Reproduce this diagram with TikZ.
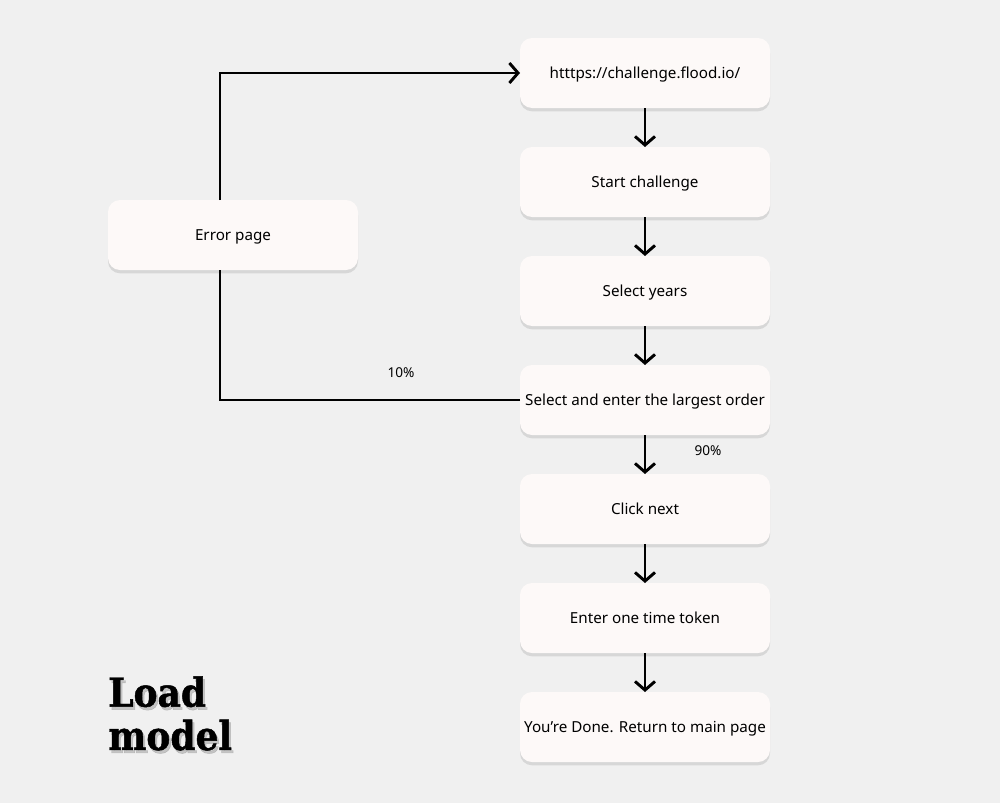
\documentclass[tikz,border=0pt]{standalone}
\usepackage{fontspec}
\setmainfont{Noto Sans}
\newfontfamily\slabfont[FakeStretch=0.9,FakeBold=1.2]{DejaVu Serif}
\usetikzlibrary{arrows.meta,positioning,shadows}
\definecolor{canvas}{HTML}{F0F0F0}
\definecolor{boxfill}{HTML}{FDF9F8}
\tikzset{
	stepbox/.style={rectangle, rounded corners=9pt, fill=boxfill, minimum width=187.5pt, minimum height=52.5pt, inner sep=2pt, outer sep=0pt,
		text height=8pt, text depth=0pt,
		font=\fontsize{11.4}{13}\selectfont, drop shadow={shadow xshift=0pt, shadow yshift=-2.5pt, opacity=0.22}},
	flow/.style={line width=2.2pt, -{Straight Barb[length=6.5pt,width=15pt,line width=2.2pt]}},
	link/.style={line width=2.2pt},
	pct/.style={font=\fontsize{10.2}{12}\selectfont},
	slab/.style={font=\slabfont\bfseries\fontsize{30}{32.5}\selectfont, align=left, anchor=north west, inner sep=0pt}
}

\begin{document}
\begin{tikzpicture}[x=0.75pt, y=-0.75pt, node distance=29.25pt]
		%background
		\fill[canvas] (0,0) rectangle (1000,803);
		
		%boxes
		\node[stepbox] (url) at (645,73) {htttps://challenge.flood.io/};
		\node[stepbox, below=of url] (start) {Start challenge};
		\node[stepbox, below=of start] (years) {Select years};
		\node[stepbox, below=of years] (order) {Select and enter the largest order};
		\node[stepbox, below=of order] (next) {Click next};
		\node[stepbox, below=of next] (token) {Enter one time token};
		\node[stepbox, below=of token] (done) {You’re Done. Return to main page};
		\node[stepbox] (error) at (233,235) {Error page};
		
		%arrows
		\draw[flow] (url) -- (start);
		\draw[flow] (start) -- (years);
		\draw[flow] (years) -- (order);
		\draw[flow] (order) -- (next);
		\draw[flow] (next) -- (token);
		\draw[flow] (token) -- (done);
		\draw[link] (order.west) -| ([xshift=-9.75pt]error.south);
		\draw[flow] ([xshift=-9.75pt]error.north) |- (url.west);
		
		%labels
		\node[pct] (ten) at (401,373) {10\%};
		\node[pct] (ninety) at (708,451) {90\%};
		\node[slab, text=black!40, opacity=0.5] (titleshade) at (110,679) {Load\\model};
		\node[slab] (title) at (108,676) {Load\\model};
\end{tikzpicture}
\end{document}
